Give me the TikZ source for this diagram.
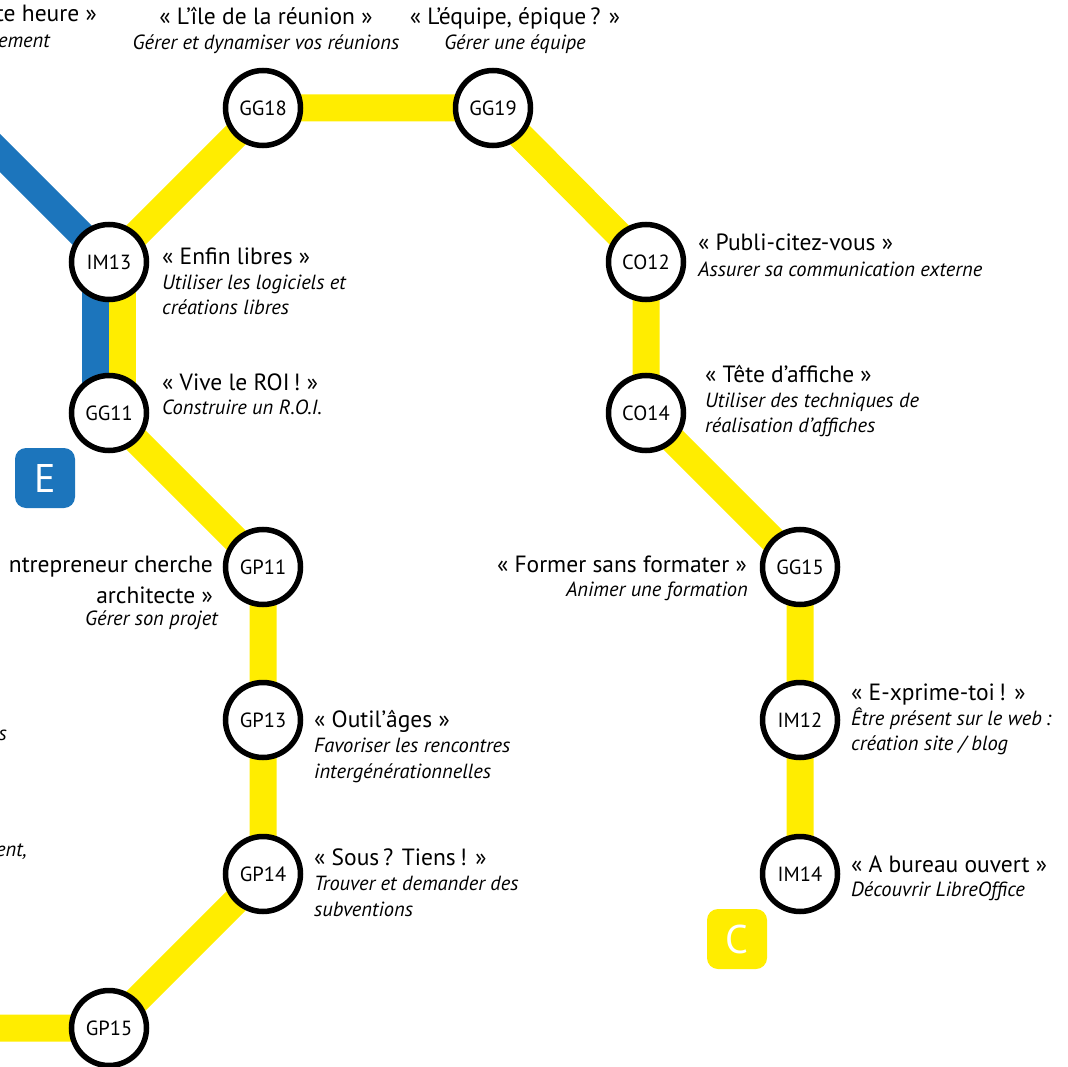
\documentclass[tikz,border=0pt]{standalone}
\usepackage{fontspec}
\setmainfont{PT Sans}
\usetikzlibrary{calc}
\definecolor{lineY}{HTML}{FFED00}
\definecolor{lineB}{HTML}{1C75BC}
\begin{document}
\begin{tikzpicture}[x=1pt,y=-1pt,
  station/.style={circle,draw=black,line width=5.5pt,fill=white,minimum size=75pt,inner sep=0pt,font=\fontsize{20.5}{22}\selectfont},
  ttl/.style={font=\fontsize{23.5}{27}\selectfont,inner sep=0pt},
  sub/.style={font=\fontsize{20.5}{23}\selectfont\itshape,inner sep=0pt},
  track/.style={line width=27pt,line join=round},
  badge/.style={rounded corners=11pt,minimum size=60pt,inner sep=0pt,text=white,font=\fontsize{40}{42}\selectfont}]
\useasboundingbox (0,0) rectangle (1068,1067);
% station positions
\coordinate (GG18) at (263,108);
\coordinate (GG19) at (493,108);
\coordinate (IM13) at (109,262);
\coordinate (GG11) at (109,413);
\coordinate (GP11) at (263,567);
\coordinate (GP13) at (263,720);
\coordinate (GP14) at (263,874);
\coordinate (GP15) at (109,1028);
\coordinate (CO12) at (646,262);
\coordinate (CO14) at (646,413);
\coordinate (GG15) at (800,567);
\coordinate (IM12) at (800,720);
\coordinate (IM14) at (800,874);
\coordinate (Bstart) at (-30,123);
\coordinate (Ystart) at (-30,1028);
% tracks
\draw[track,lineB] (Bstart) -- (IM13);
\draw[track,lineB] ($(IM13)+(-13.5,0)$) -- ($(GG11)+(-13.5,0)$);
\draw[track,lineY] (Ystart) -- (GP15) -- (GP14) -- (GP13) -- (GP11) -- (GG11);
\draw[track,lineY] ($(GG11)+(13.5,0)$) -- ($(IM13)+(13.5,0)$);
\draw[track,lineY] (IM13) -- (GG18) -- (GG19) -- (CO12) -- (CO14) -- (GG15) -- (IM12) -- (IM14);
% stations
\foreach \s in {GG18,GG19,IM13,GG11,GP11,GP13,GP14,GP15,CO12,CO14,GG15,IM12,IM14}
  \node[station] (s\s) at (\s) {\s};
% badges
\node[badge,fill=lineB] (badgeE) at (45,478) {E};
\node[badge,fill=lineY] (badgeC) at (737,939) {C};
% labels
\node[ttl,anchor=base east] (t1) at (97,22) {te heure »};
\node[sub,anchor=base east] (t1s) at (50,48) {ement};
\node[ttl,anchor=base] (t2) at (266,25) {« L’île de la réunion »};
\node[sub,anchor=base] (t2s) at (266,50) {Gérer et dynamiser vos réunions};
\node[ttl,anchor=base] (t3) at (515,25) {« L’équipe, épique\,? »};
\node[sub,anchor=base] (t3s) at (515,50) {Gérer une équipe};
\node[ttl,anchor=base west] (t4) at (162,265) {« Enfin libres »};
\node[sub,anchor=base west] (t4s) at (162,290) {Utiliser les logiciels et};
\node[sub,anchor=base west] (t4t) at (162,315) {créations libres};
\node[ttl,anchor=base west] (t5) at (162,390) {« Vive le ROI\,! »};
\node[sub,anchor=base west] (t5s) at (162,414) {Construire un R.O.I.};
\node[ttl,anchor=base west] (t6) at (698,251) {« Publi-citez-vous »};
\node[sub,anchor=base west] (t6s) at (698,277) {Assurer sa communication externe};
\node[ttl,anchor=base west] (t7) at (705,382) {« Tête d’affiche »};
\node[sub,anchor=base west] (t7s) at (705,407) {Utiliser des techniques de};
\node[sub,anchor=base west] (t7t) at (705,432) {réalisation d’affiches};
\node[ttl,anchor=base east] (t8) at (747,572) {« Former sans formater »};
\node[sub,anchor=base east] (t8s) at (748,596) {Animer une formation};
\node[ttl,anchor=base east] (t9) at (213,572) {ntrepreneur cherche};
\node[ttl,anchor=base east] (t9b) at (213,603) {architecte »};
\node[sub,anchor=base east] (t9s) at (218,625) {Gérer son projet};
\node[ttl,anchor=base west] (t10) at (314,727) {« Outil’âges »};
\node[sub,anchor=base west] (t10s) at (314,752) {Favoriser les rencontres};
\node[sub,anchor=base west] (t10t) at (314,778) {intergénérationnelles};
\node[ttl,anchor=base west] (t11) at (314,865) {« Sous\,? Tiens\,! »};
\node[sub,anchor=base west] (t11s) at (314,890) {Trouver et demander des};
\node[sub,anchor=base west] (t11t) at (314,916) {subventions};
\node[ttl,anchor=base west] (t12) at (851,700) {« E-xprime-toi\,! »};
\node[sub,anchor=base west] (t12s) at (851,725) {Être présent sur le web\,:};
\node[sub,anchor=base west] (t12t) at (851,750) {création site / blog};
\node[ttl,anchor=base west] (t13) at (851,872) {« A bureau ouvert »};
\node[sub,anchor=base west] (t13s) at (851,896) {Découvrir LibreOffice};
\node[sub,anchor=base east] (f1) at (7,740) {s};
\node[sub,anchor=base east] (f2) at (27,856) {ent,};
\end{tikzpicture}
\end{document}
